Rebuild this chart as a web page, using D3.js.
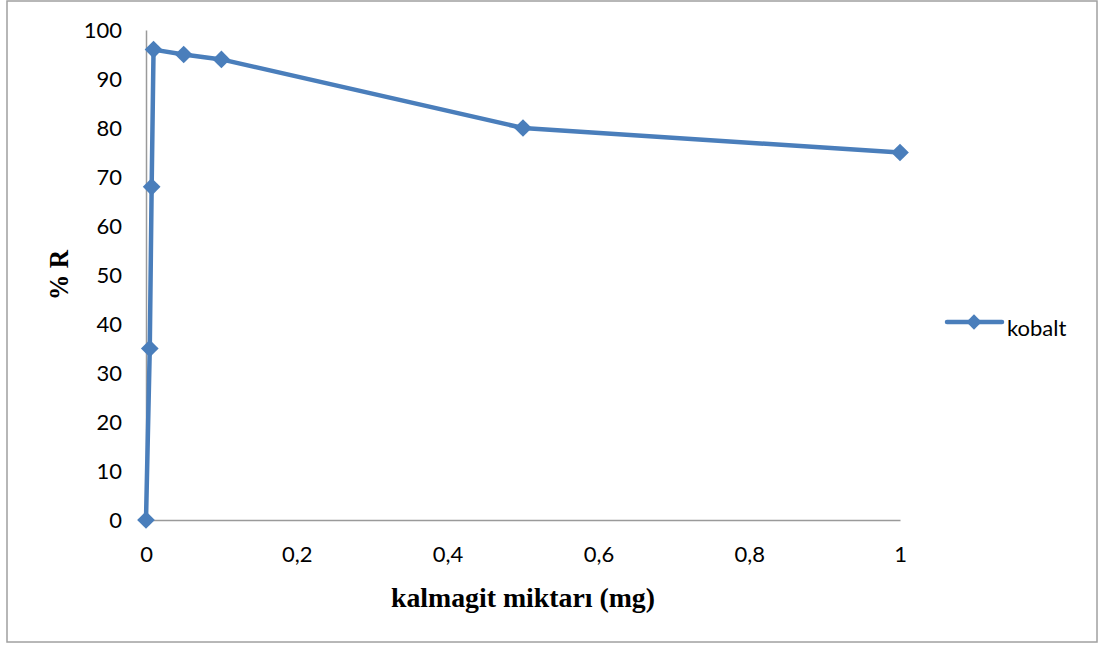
<!DOCTYPE html>
<html>
<head>
<meta charset="utf-8">
<script src="https://cdn.jsdelivr.net/npm/d3@7"></script>
<style>
  body { margin: 0; background: #fff; }
  svg { display: block; }
</style>
</head>
<body>
<svg id="chart" width="1104" height="648"></svg>
<script>
// kalmagit amount (mg) vs. % R for cobalt
const amounts = [0, 0.005, 0.0075, 0.01, 0.05, 0.1, 0.5, 1];
const recovery = [0, 35, 68, 96, 95, 94, 80, 75];
const seriesName = "kobalt";
const xTicks = [0, 0.2, 0.4, 0.6, 0.8, 1];
const yTicks = [0, 10, 20, 30, 40, 50, 60, 70, 80, 90, 100];
const xTitle = "kalmagit miktarı (mg)";
const yTitle = "% R";

const svg = d3.select("#chart");
const color = "#4A7EBB";
const tickFont = "Lato, 'Open Sans', sans-serif";
const titleFont = "'Liberation Serif', 'Times New Roman', serif";

// outer frame
svg.append("rect")
  .attr("x", 7).attr("y", 1)
  .attr("width", 1090).attr("height", 641)
  .attr("fill", "#fff").attr("stroke", "#a0a0a0").attr("stroke-width", 1.5);

const x = d3.scaleLinear().domain([0, 1]).range([146, 900]);
const y = d3.scaleLinear().domain([0, 100]).range([520, 30]);

// axes
const xAxis = d3.axisBottom(x).tickValues(xTicks).tickSize(0).tickPadding(0)
  .tickFormat(d => d3.format("~g")(d).replace(".", ","));
const yAxis = d3.axisLeft(y).tickValues(yTicks).tickSize(0).tickPadding(24);

const gx = svg.append("g").attr("transform", `translate(0,${y(0)})`).call(xAxis);
const gy = svg.append("g").attr("transform", `translate(${x(0)},0)`).call(yAxis);

[gx, gy].forEach(g => {
  g.select(".domain").attr("stroke", "#9a9a9a").attr("stroke-width", 1.5);
  g.selectAll("text").attr("font-family", tickFont).attr("font-size", 22).attr("fill", "#000");
});
gx.selectAll("text").attr("y", 42).attr("dy", 0);

// axis titles
svg.append("text")
  .attr("x", (x(0) + x(1)) / 2).attr("y", 607)
  .attr("text-anchor", "middle")
  .attr("font-family", titleFont).attr("font-weight", "bold").attr("font-size", 27)
  .attr("textLength", 264).attr("lengthAdjust", "spacingAndGlyphs")
  .text(xTitle);

svg.append("text")
  .attr("transform", `translate(68,${(y(0) + y(100)) / 2}) rotate(-90)`)
  .attr("text-anchor", "middle")
  .attr("font-family", titleFont).attr("font-weight", "bold").attr("font-size", 27)
  .attr("textLength", 50).attr("lengthAdjust", "spacingAndGlyphs")
  .text(yTitle);

// series line
const pts = amounts.map((a, i) => [a, recovery[i]]);
svg.append("path")
  .datum(pts)
  .attr("fill", "none").attr("stroke", color).attr("stroke-width", 4.5)
  .attr("stroke-linejoin", "round")
  .attr("d", d3.line().x(d => x(d[0])).y(d => y(d[1])));

// diamond markers
const diamond = d3.symbol().type(d3.symbolDiamond2).size(200);
svg.selectAll(".marker").data(pts).enter().append("path")
  .attr("class", "marker")
  .attr("transform", d => `translate(${x(d[0])},${y(d[1])})`)
  .attr("d", diamond)
  .attr("fill", color);

// legend
const lg = svg.append("g").attr("transform", "translate(947,322)");
lg.append("line").attr("x1", 0).attr("x2", 55).attr("y1", 0).attr("y2", 0)
  .attr("stroke", color).attr("stroke-width", 4.5).attr("stroke-linecap", "round");
lg.append("path").attr("transform", "translate(27,0)")
  .attr("d", d3.symbol().type(d3.symbolDiamond2).size(150)).attr("fill", color);
lg.append("text").attr("x", 60).attr("y", 6).attr("dy", "0.35em")
  .attr("font-family", tickFont).attr("font-size", 22).attr("fill", "#000")
  .text(seriesName);
</script>
</body>
</html>
